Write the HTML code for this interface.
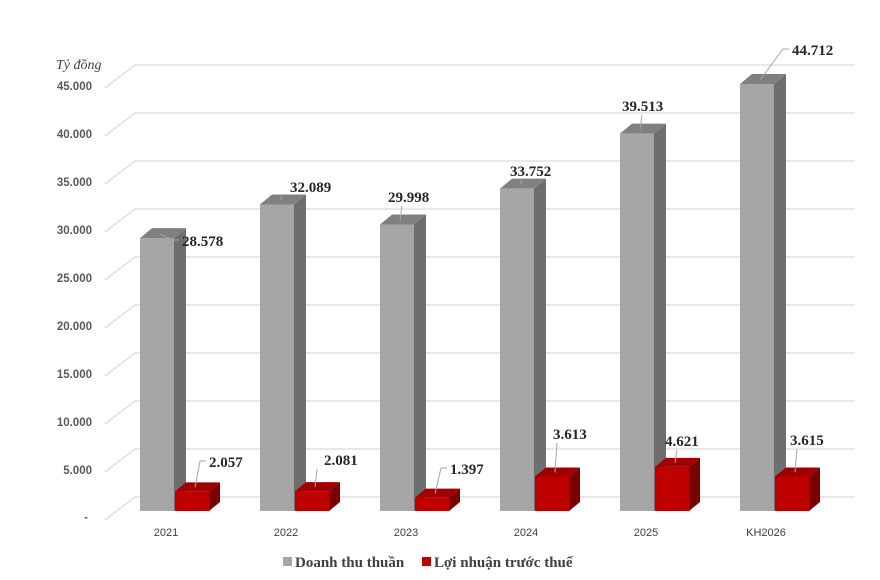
<!DOCTYPE html>
<html><head><meta charset="utf-8"><style>
body{margin:0;background:#fff}
svg{display:block}
.ax{font-family:"Liberation Sans",sans-serif;font-size:11.5px;fill:#595959;font-weight:bold}
.cat{font-family:"Liberation Sans",sans-serif;font-size:11px;fill:#404040}
.v{font-family:"Liberation Serif",serif;font-size:15px;font-weight:bold;fill:#262626}
.lg{font-family:"Liberation Serif",serif;font-size:15px;font-weight:bold;fill:#404040}
</style></head><body>
<svg width="880" height="580" xmlns="http://www.w3.org/2000/svg">
<text x="56" y="69" style="font-family:'Liberation Serif',serif;font-style:italic;font-size:14px;fill:#404040">Tỷ đồng</text>
<g stroke="#d9d9d9" stroke-width="1.3" fill="none">
<path d="M135 65H855M105 88L135 65"/>
<path d="M135 113H855M105 136L135 113"/>
<path d="M135 161H855M105 184L135 161"/>
<path d="M135 209H855M105 232L135 209"/>
<path d="M135 257H855M105 280L135 257"/>
<path d="M135 305H855M105 328L135 305"/>
<path d="M135 353H855M105 376L135 353"/>
<path d="M135 401H855M105 424L135 401"/>
<path d="M135 449H855M105 472L135 449"/>
<path d="M135 497H855M105 520L135 497"/>
</g>
<g class="ax" text-anchor="end">
<text x="92" y="90">45.000</text><text x="92" y="138">40.000</text><text x="92" y="186">35.000</text>
<text x="92" y="234">30.000</text><text x="92" y="282">25.000</text><text x="92" y="330">20.000</text>
<text x="92" y="378">15.000</text><text x="92" y="426">10.000</text><text x="92" y="474">5.000</text>
<text x="88" y="521">-</text></g>
<g id="bars"></g>
<g class="cat" text-anchor="middle">
<text x="166" y="536">2021</text><text x="286" y="536">2022</text><text x="406" y="536">2023</text>
<text x="526" y="536">2024</text><text x="646" y="536">2025</text><text x="766" y="536">KH2026</text></g>
<rect x="283" y="557" width="9" height="9" fill="#a6a6a6"/>
<text class="lg" x="295" y="567">Doanh thu thuần</text>
<rect x="422" y="557" width="9" height="9" fill="#c00000"/>
<text class="lg" x="434" y="567">Lợi nhuận trước thuế</text>
</svg>
<script>
var g=document.getElementById('bars'),B=511,k=0.00955;
var d=[[28578,2057,182,246,209,467],[32089,2081,290,192,324,465],[29998,1397,388,202,450,474],[33752,3613,510,176,553,439],[39513,4621,622,111,665,446],[44712,3615,792,55,790,445]];
var labs=[["28.578","2.057"],["32.089","2.081"],["29.998","1.397"],["33.752","3.613"],["39.513","4.621"],["44.712","3.615"]];
var s='';
function bar(x,w,v,dx,dy,f,sd,tp){var t=B-v*k;
return '<polygon points="'+(x+w)+','+t+' '+(x+w+dx)+','+(t-dy)+' '+(x+w+dx)+','+(B-dy)+' '+(x+w)+','+B+'" fill="'+sd+'"/>'+
'<polygon points="'+x+','+t+' '+(x+dx)+','+(t-dy)+' '+(x+w+dx)+','+(t-dy)+' '+(x+w)+','+t+'" fill="'+tp+'"/>'+
'<rect x="'+x+'" y="'+t+'" width="'+w+'" height="'+(B-t)+'" fill="'+f+'"/>';}
function lead(cx,cy,tx,ty){
 if(tx-8>cx+4) return '<polyline points="'+cx+','+cy+' '+(tx-9)+','+(ty-6)+' '+(tx-3)+','+(ty-6)+'" fill="none" stroke="#a6a6a6"/>';
 return '<polyline points="'+cx+','+cy+' '+(cx+2)+','+(ty+4)+'" fill="none" stroke="#a6a6a6"/>';}
d.forEach(function(r,i){var x=140+120*i;
s+=bar(x,34,r[0],12,10,'#a6a6a6','#6e6e6e','#808080');
s+=bar(x+35,34,r[1],11,9,'#c00000','#7a0000','#a00000');
var gt=B-r[0]*k, rt=B-r[1]*k;
s+=lead(x+20,gt-4,r[2],r[3]);
s+=lead(x+55,rt-4,r[4],r[5]);
s+='<text class="v" x="'+r[2]+'" y="'+r[3]+'">'+labs[i][0]+'</text>';
s+='<text class="v" x="'+r[4]+'" y="'+r[5]+'">'+labs[i][1]+'</text>';});
g.innerHTML=s;
</script>
</body></html>
